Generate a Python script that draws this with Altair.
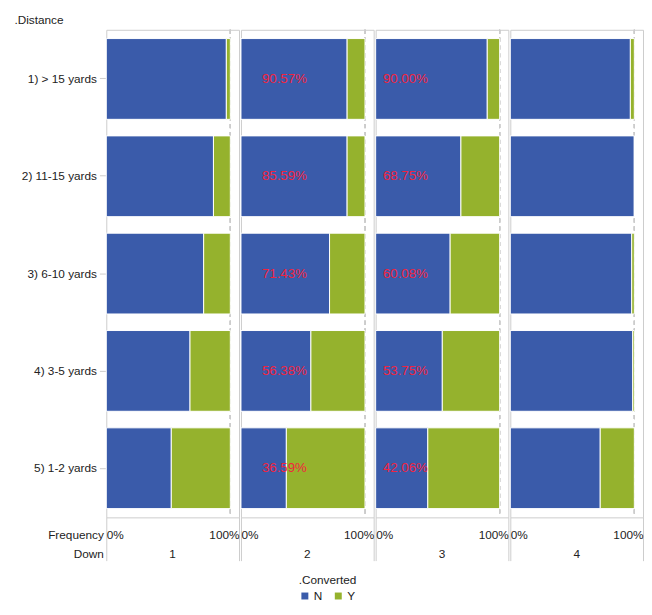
import altair as alt
import pandas as pd

# ---- data ----
distances = ["1) > 15 yards", "2) 11-15 yards", "3) 6-10 yards", "4) 3-5 yards", "5) 1-2 yards"]
downs = ["1", "2", "3", "4"]
converted = ["N", "Y"]

# share of "N" (not converted) per distance, for each down
share_n_down1 = [0.968, 0.864, 0.785, 0.675, 0.524]
share_n_down2 = [0.856, 0.8559, 0.7143, 0.5638, 0.3659]
share_n_down3 = [0.900, 0.6875, 0.6008, 0.5375, 0.4206]
share_n_down4 = [0.968, 1.000, 0.979, 0.987, 0.725]

labels_down2 = ["90.57%", "85.59%", "71.43%", "56.38%", "36.59%"]
labels_down3 = ["90.00%", "68.75%", "60.08%", "53.75%", "42.06%"]

colors = ["#3A5BAA", "#95B22D"]

FONT = "Liberation Sans"
TXT = "#222222"
GRID = "#cccccc"

shares = [share_n_down1, share_n_down2, share_n_down3, share_n_down4]
rows = []
for d, s in zip(downs, shares):
    for dist, n in zip(distances, s):
        rows.append({"down": d, "distance": dist, "converted": "N", "share": n})
        rows.append({"down": d, "distance": dist, "converted": "Y", "share": 1 - n})
df = pd.DataFrame(rows)

lab_rows = []
for d, labs in (("2", labels_down2), ("3", labels_down3)):
    for dist, t in zip(distances, labs):
        lab_rows.append({"down": d, "distance": dist, "label": t})
df_lab = pd.DataFrame(lab_rows)

XMAX = 1.07
label_x = {"2": 0.35, "3": 0.24}


def panel(i, d):
    first = i == 0
    yaxis = alt.Axis(
        title=".Distance", titleAngle=0, titleAlign="left", titleBaseline="top",
        titleX=-94, titleY=-15, titleFontWeight="normal", titleFontSize=12,
        titleFont=FONT, titleColor=TXT, labelFont=FONT, labelFontSize=12,
        labelColor=TXT, tickSize=7, tickColor=GRID, domain=False, labelPadding=3,
    ) if first else None
    xaxis = alt.Axis(
        values=[0, XMAX], labelExpr="datum.value < 0.5 ? '0%' : '100%'",
        labelFlush=True, grid=False, domain=False, tickSize=44, tickColor=GRID,
        labelPadding=-31, labelFont=FONT, labelFontSize=12, labelColor=TXT,
        title=["Frequency", "Down"] if first else None,
        titleX=-3, titleY=13, titleAlign="right", titleBaseline="top",
        titleFontWeight="normal", titleFontSize=12, titleFont=FONT,
        titleColor=TXT, titleLineHeight=19,
    )
    yenc = alt.Y("distance:N", sort=distances,
                 scale=alt.Scale(domain=distances, paddingInner=0.17, paddingOuter=0.09),
                 axis=yaxis)
    xscale = alt.Scale(domain=[0, XMAX], nice=False, zero=True)

    base = alt.Chart(df).transform_filter(alt.datum.down == d)
    rule = base.mark_rule(color=GRID, strokeDash=[4, 4], strokeWidth=1).encode(
        x=alt.X(datum=1, scale=xscale, axis=xaxis)
    )
    bars = base.mark_bar(stroke="white", strokeWidth=1).encode(
        x=alt.X("share:Q", stack="zero", scale=xscale, axis=xaxis),
        y=yenc,
        color=alt.Color(
            "converted:N",
            scale=alt.Scale(domain=converted, range=colors),
            legend=alt.Legend(
                title=".Converted", orient="none", legendX=196, legendY=555,
                direction="horizontal", symbolType="square", symbolSize=50,
                symbolStrokeWidth=0, titleFontWeight="normal", titleFontSize=12,
                titleFont=FONT, titleColor=TXT, titleAnchor="middle",
                labelFont=FONT, labelFontSize=12, labelColor=TXT,
                labelOffset=3, columnPadding=10, titlePadding=3,
            ),
        ),
        order=alt.Order("converted:N", sort="ascending"),
    )
    layers = [rule, bars]
    if d in label_x:
        txt = alt.Chart(df_lab).transform_filter(alt.datum.down == d).mark_text(
            color="#F2243F", fontSize=13.5, font=FONT, align="center", baseline="middle"
        ).encode(
            x=alt.X(datum=label_x[d], scale=xscale, axis=xaxis),
            y=yenc,
            text="label:N",
        )
        layers.append(txt)
    return alt.layer(*layers).properties(
        width=135, height=496,
        title=alt.TitleParams(d, orient="bottom", anchor="middle", frame="group",
                              dy=-16, fontSize=12, fontWeight="normal", font=FONT,
                              color=TXT),
    )


chart = alt.hconcat(*[panel(i, d) for i, d in enumerate(downs)], spacing=0).resolve_scale(
    color="shared"
).configure_view(stroke=GRID, strokeWidth=1).properties(
    padding={"left": 5, "top": 0, "right": 0, "bottom": 0}, background="white"
)

chart.save("out.html", embed_options={"renderer": "svg", "actions": False})
